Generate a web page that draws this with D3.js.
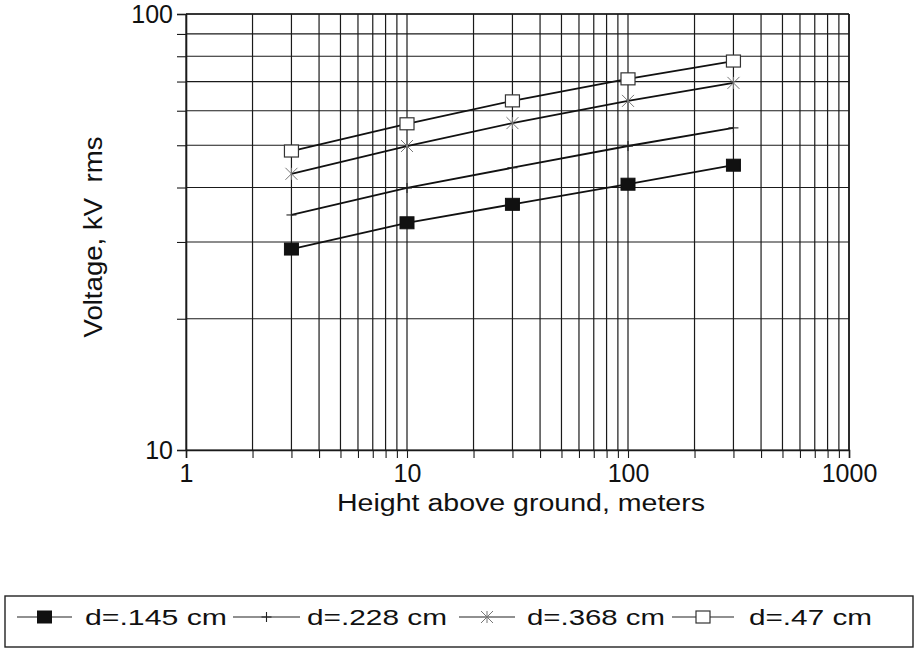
<!DOCTYPE html>
<html>
<head>
<meta charset="utf-8">
<script src="https://cdn.jsdelivr.net/npm/d3@7"></script>
<style>
  html, body { margin: 0; padding: 0; background: #fff; }
  svg { display: block; }
  text { font-family: "Liberation Sans", Arial, Helvetica, sans-serif; fill: #111; }
</style>
</head>
<body>
<svg id="chart" width="917" height="648"></svg>
<script>
// Heights above ground (m) at which each conductor was tested
const heights = [3, 10, 30, 100, 300];

// Corona onset voltage, kV rms, per conductor diameter
const d145 = [28.9, 33.2, 36.6, 40.7, 45.0];
const d228 = [34.6, 39.9, 44.4, 49.8, 54.8];
const d368 = [43.0, 49.8, 56.2, 63.2, 69.5];
const d47  = [48.5, 56.0, 63.2, 71.0, 78.0];

const seriesNames = ["d=.145 cm", "d=.228 cm", "d=.368 cm", "d=.47 cm"];
const seriesMarkers = ["filledSquare", "plus", "star", "openSquare"];

const xTickLabels = [1, 10, 100, 1000];
const yTickLabels = [10, 100];

const svg = d3.select("#chart");

const x = d3.scaleLog().domain([1, 1000]).range([186, 849]);
const y = d3.scaleLog().domain([10, 100]).range([450, 14]);

// every 1..9 step in each decade
const xGrid = [];
for (let p = 1; p <= 100; p *= 10) for (let k = 1; k <= 9; k++) xGrid.push(k * p);
xGrid.push(1000);
const yGrid = [];
for (let k = 1; k <= 10; k++) yGrid.push(k * 10);

const ink = "#1a1a1a";

// grid
const grid = svg.append("g").attr("stroke", ink).attr("stroke-width", 1.2);
grid.selectAll("line.v").data(xGrid).join("line")
  .attr("x1", d => x(d)).attr("x2", d => x(d))
  .attr("y1", y(100)).attr("y2", y(10));
grid.selectAll("line.h").data(yGrid).join("line")
  .attr("x1", x(1)).attr("x2", x(1000))
  .attr("y1", d => y(d)).attr("y2", d => y(d));

// axes
const fmtX = d => xTickLabels.includes(d) ? String(d) : "";
const fmtY = d => yTickLabels.includes(d) ? String(d) : "";

const xAxis = svg.append("g")
  .attr("transform", `translate(0,${y(10)})`)
  .call(d3.axisBottom(x).tickValues(xGrid).tickFormat(fmtX).tickSize(8).tickPadding(4));
const yAxis = svg.append("g")
  .attr("transform", `translate(${x(1)},0)`)
  .call(d3.axisLeft(y).tickValues(yGrid).tickFormat(fmtY).tickSize(9).tickPadding(4));

[xAxis, yAxis].forEach(a => {
  a.selectAll(".domain").attr("stroke", ink).attr("stroke-width", 1.6);
  a.selectAll(".tick line").attr("stroke", ink).attr("stroke-width", 1.1);
  a.selectAll(".tick text").attr("font-size", 25).attr("fill", "#111")
    .style("font-family", '"Liberation Sans", Arial, sans-serif');
});
xAxis.selectAll(".tick text").attr("dy", "0.78em");

// frame on top and right
svg.append("line").attr("x1", x(1)).attr("x2", x(1000)).attr("y1", y(100)).attr("y2", y(100))
  .attr("stroke", ink).attr("stroke-width", 1.6);
svg.append("line").attr("x1", x(1000)).attr("x2", x(1000)).attr("y1", y(100)).attr("y2", y(10))
  .attr("stroke", ink).attr("stroke-width", 1.6);

// axis titles
svg.append("text").attr("x", 521).attr("y", 511).attr("text-anchor", "middle")
  .attr("font-size", 23.5).attr("textLength", 368).attr("lengthAdjust", "spacingAndGlyphs")
  .text("Height above ground, meters");
svg.append("text").attr("transform", "translate(102,237) rotate(-90)")
  .attr("text-anchor", "middle").attr("font-size", 26)
  .attr("textLength", 201).attr("lengthAdjust", "spacingAndGlyphs")
  .style("white-space", "pre")
  .text("Voltage, kV  rms");

// marker drawing
function drawMarker(g, type, cx, cy) {
  if (type === "filledSquare") {
    g.append("rect").attr("x", cx - 7).attr("y", cy - 6).attr("width", 14).attr("height", 12)
      .attr("fill", "#111").attr("stroke", "#111");
  } else if (type === "openSquare") {
    g.append("rect").attr("x", cx - 7).attr("y", cy - 6).attr("width", 14).attr("height", 12)
      .attr("fill", "#fff").attr("stroke", "#333").attr("stroke-width", 1.2);
  } else if (type === "plus") {
    g.append("line").attr("x1", cx).attr("x2", cx).attr("y1", cy - 5).attr("y2", cy + 5)
      .attr("stroke", "#222").attr("stroke-width", 1.1);
    g.append("line").attr("x1", cx - 5).attr("x2", cx + 5).attr("y1", cy).attr("y2", cy)
      .attr("stroke", "#222").attr("stroke-width", 1.1);
  } else if (type === "star") {
    const r = 6;
    [[-r, -r, r, r], [-r, r, r, -r], [0, -r, 0, r]].forEach(s => {
      g.append("line").attr("x1", cx + s[0]).attr("y1", cy + s[1])
        .attr("x2", cx + s[2]).attr("y2", cy + s[3])
        .attr("stroke", "#777").attr("stroke-width", 1);
    });
  }
}

const allSeries = [d145, d228, d368, d47];
const line = d3.line().x(d => x(d[0])).y(d => y(d[1]));

allSeries.forEach((vals, i) => {
  const pts = heights.map((h, j) => [h, vals[j]]);
  const g = svg.append("g");
  g.append("path").attr("d", line(pts)).attr("fill", "none")
    .attr("stroke", "#111").attr("stroke-width", 1.8);
  pts.forEach(p => drawMarker(g, seriesMarkers[i], x(p[0]), y(p[1])));
});

// legend
const legend = svg.append("g");
legend.append("rect").attr("x", 5).attr("y", 596).attr("width", 908).attr("height", 51)
  .attr("fill", "none").attr("stroke", "#222").attr("stroke-width", 1.4);

const legSym = [[17, 72], [233, 300], [459, 515], [672, 734]];
const legText = [[85, 142], [307, 140], [527, 138], [749, 123]];
seriesNames.forEach((name, i) => {
  const cy = 617;
  legend.append("line").attr("x1", legSym[i][0]).attr("x2", legSym[i][1])
    .attr("y1", cy).attr("y2", cy).attr("stroke", "#222").attr("stroke-width", 1.2);
  drawMarker(legend, seriesMarkers[i], (legSym[i][0] + legSym[i][1]) / 2, cy);
  legend.append("text").attr("x", legText[i][0]).attr("y", 625)
    .attr("font-size", 22).attr("textLength", legText[i][1])
    .attr("lengthAdjust", "spacingAndGlyphs").text(name);
});
</script>
</body>
</html>
